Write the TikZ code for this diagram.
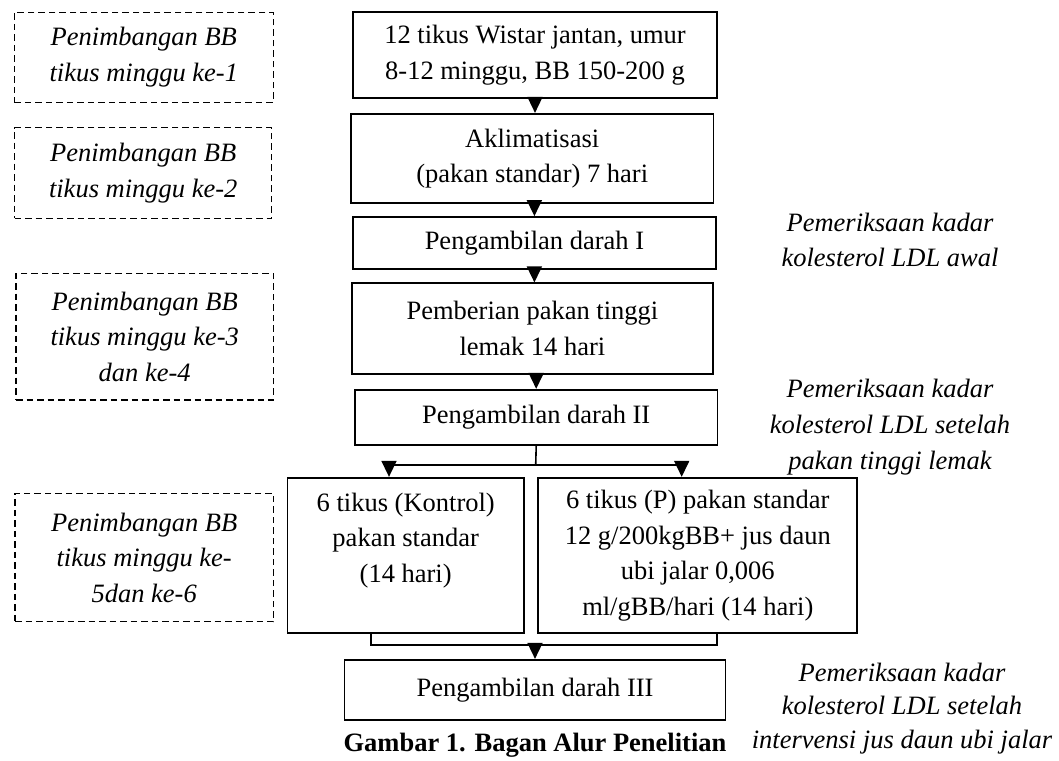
\documentclass[tikz,border=0pt]{standalone}
\usepackage{fontspec}
\setmainfont{Liberation Serif}
\usetikzlibrary{arrows.meta}
\tikzset{
  mainbox/.style={draw, line width=1.7pt, inner sep=0pt, align=center,
    font=\fontsize{26.5}{35.5}\selectfont},
  wbox/.style={draw, dash pattern=on 6.5pt off 4pt, line width=1.5pt, inner sep=0pt, align=center,
    font=\fontsize{26.5}{35.5}\selectfont\itshape},
  note/.style={inner sep=0pt, align=center, font=\fontsize{26.5}{35.8}\selectfont\itshape},
  link/.style={line width=1.6pt},
  arr/.style={line width=1.6pt, -{Triangle[width=15pt,length=16pt]}},
}
\begin{document}
\begin{tikzpicture}[x=1pt,y=-1pt]
\useasboundingbox (0,0) rectangle (1059,760);
% main column
\node[mainbox, minimum width=364.6pt, minimum height=85.4pt] (b1) at (535,55)
  {12 tikus Wistar jantan, umur\\8-12 minggu, BB 150-200 g};
\node[mainbox, minimum width=362.3pt, minimum height=89.3pt] (b2) at (532.2,158.4)
  {Aklimatisasi\\(pakan standar) 7 hari};
\node[mainbox, minimum width=362.7pt, minimum height=52pt] (b3) at (534.4,243)
  {Pengambilan darah I};
\node[mainbox, minimum width=360.7pt, minimum height=90.4pt] (b4) at (532.4,328.5)
  {Pemberian pakan tinggi\\lemak 14 hari};
\node[mainbox, minimum width=362.3pt, minimum height=55.6pt] (b5) at (536.2,417.5)
  {Pengambilan darah II};
\node[mainbox, minimum width=236.7pt, minimum height=155.6pt] (b6) at (405.7,555.5)
  {6 tikus (Kontrol)\\pakan standar\\(14 hari)\\\mbox{}};
\node[mainbox, minimum width=319pt, minimum height=155.6pt] (b7) at (697.8,555.5)
  {6 tikus (P) pakan standar\\12 g/200kgBB+ jus daun\\ubi jalar 0,006\\ml/gBB/hari (14 hari)};
\node[mainbox, minimum width=381.2pt, minimum height=60.3pt] (b8) at (535,689.9)
  {Pengambilan darah III};
% weighing boxes
\node[wbox, minimum width=259pt, minimum height=90pt] (wa) at (143.8,57.3)
  {Penimbangan BB\\tikus minggu ke-1};
\node[wbox, minimum width=257pt, minimum height=90.6pt] (wb) at (143.2,173)
  {Penimbangan BB\\tikus minggu ke-2};
\node[wbox, minimum width=257.3pt, minimum height=126.7pt] (wc) at (144.7,336.7)
  {Penimbangan BB\\tikus minggu ke-3\\dan ke-4};
\node[wbox, minimum width=258.3pt, minimum height=128.4pt] (wd) at (144.2,557.5)
  {Penimbangan BB\\tikus minggu ke-\\5dan ke-6};
% notes
\node[note] (n1) at (890,240) {Pemeriksaan kadar\\kolesterol LDL awal};
\node[note] (n2) at (890,427) {Pemeriksaan kadar\\kolesterol LDL setelah\\pakan tinggi lemak};
\node[note, font=\fontsize{26.5}{33.5}\selectfont\itshape] (n3) at (902,708.5)
  {Pemeriksaan kadar\\kolesterol LDL setelah\\intervensi jus daun ubi jalar};
\node[inner sep=0pt, anchor=base, font=\fontsize{26.5}{32}\selectfont\bfseries] (cap) at (535,751.7)
  {Gambar 1. Bagan Alur Penelitian};
% connectors
\draw[arr] (b1.south) -- (b1.south |- b2.north);
\draw[arr] (b3.north |- b2.south) -- (b3.north);
\draw[arr] (b3.south) -- (b3.south |- b4.north);
\draw[arr] (b5.north |- b4.south) -- (b5.north);
\coordinate (split) at (535.7,465);
\draw[link] (b5.south) -- (split);
\draw[arr] (split) -| ([xshift=-16.7pt]b6.north);
\draw[arr] (split) -| ([xshift=-16.1pt]b7.north);
\coordinate (merge) at (534,645);
\draw[link] ([xshift=-34.7pt]b6.south) |- (merge) -| ([xshift=18.9pt]b7.south);
\draw[arr] (merge) -- (merge -| b8.north) -- (b8.north);
\end{tikzpicture}
\end{document}
